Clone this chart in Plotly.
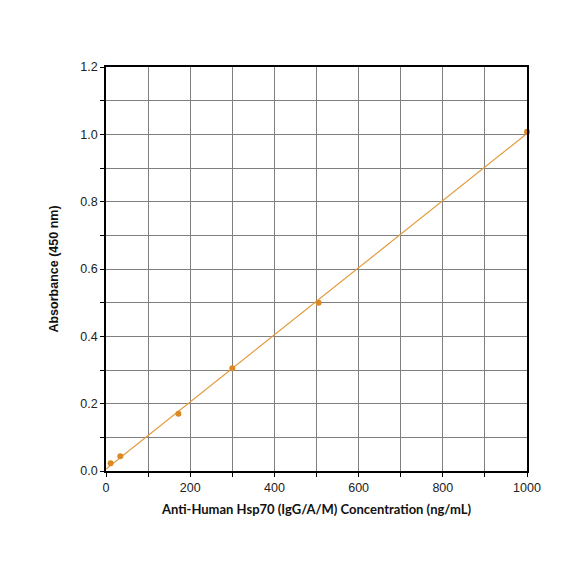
import numpy as np
import plotly.graph_objs as go

# standard curve data
conc = [11, 34, 172, 300, 505, 1000]
absorbance = [0.023, 0.044, 0.170, 0.305, 0.500, 1.008]

# linear fit for the trend line
slope, intercept = np.polyfit(conc, absorbance, 1)
fit_x = [0, 1000]
fit_y = [intercept + slope * v for v in fit_x]

fig = go.Figure()
fig.add_trace(go.Scatter(x=fit_x, y=fit_y, mode='lines',
                         line=dict(color='#E39A3B', width=1.2),
                         hoverinfo='skip', showlegend=False))
fig.add_trace(go.Scatter(x=conc, y=absorbance, mode='markers',
                         marker=dict(color='#DA8A24', size=6),
                         showlegend=False, cliponaxis=False))

# page body has an 8px margin, so margins are shifted to line up the plot box
fig.update_layout(
    width=584, height=584,
    paper_bgcolor='white', plot_bgcolor='white',
    margin=dict(l=98, r=65, t=59, b=121),
    font=dict(family='Liberation Sans, Arial', size=12.5, color='#222'),
)
fig.update_xaxes(
    range=[0, 1000], dtick=200, tickformat='d',
    ticks='outside', ticklen=4, tickcolor='black',
    showline=True, linecolor='black', linewidth=1.5, mirror=True,
    showgrid=True, gridcolor='#7f7f7f', gridwidth=1,
    minor=dict(dtick=100, ticks='outside', ticklen=4, tickcolor='black',
               showgrid=True, gridcolor='#7f7f7f', gridwidth=1),
    zeroline=False,
    title=dict(text='<b>Anti-Human Hsp70 (IgG/A/M) Concentration (ng/mL)</b>',
               font=dict(family='Lato, Noto Sans', size=13, color='#111'),
               standoff=11),
)
fig.update_yaxes(
    range=[0, 1.2], dtick=0.2, tickformat='.1f',
    ticks='outside', ticklen=4, tickcolor='black',
    showline=True, linecolor='black', linewidth=1.5, mirror=True,
    showgrid=True, gridcolor='#7f7f7f', gridwidth=1,
    minor=dict(dtick=0.1, ticks='outside', ticklen=4, tickcolor='black',
               showgrid=True, gridcolor='#7f7f7f', gridwidth=1),
    zeroline=False,
    title=dict(text='<b>Absorbance (450 nm)</b>',
               font=dict(family='Liberation Sans, Arial', size=12.5, color='#111'),
               standoff=19),
)

fig.write_html("out.html")
